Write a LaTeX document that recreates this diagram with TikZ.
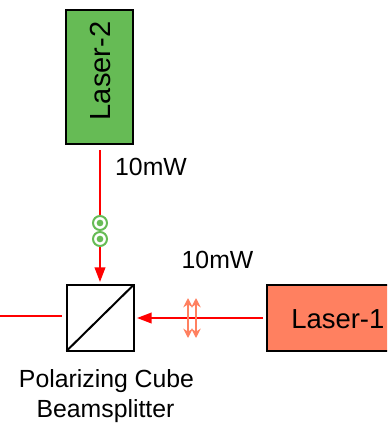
\documentclass[tikz,border=0pt]{standalone}
\usepackage{fontspec}
\setmainfont{Liberation Sans}
\usetikzlibrary{arrows.meta}
\definecolor{lgreen}{HTML}{66BB55}
\definecolor{lsalmon}{HTML}{FF8060}
\tikzset{
  x=0.75pt,y=-0.75pt,
  laserbox/.style={draw=black,line width=1.5pt,inner sep=0pt,outer sep=0pt},
  beam/.style={draw=red,line width=1.3pt},
  beamhead/.style={-{Triangle[length=11pt,width=8pt]}},
  lbl/.style={font=\fontsize{18.6pt}{22pt}\selectfont,text=black,inner sep=0pt},
  biglbl/.style={font=\fontsize{21.8pt}{26pt}\selectfont,text=black,inner sep=0pt},
  pol/.style={draw=lsalmon,line width=1.3pt,{Stealth[length=7pt,width=7pt]}-{Stealth[length=7pt,width=7pt]}},
  dot/.style={circle,draw=lgreen,line width=1.5pt,fill=white,minimum size=10.5pt,inner sep=0pt},
  dotin/.style={circle,fill=lgreen,minimum size=5pt,inner sep=0pt}
}
\begin{document}
\begin{tikzpicture}
\useasboundingbox (0,0) rectangle (387,425);
\clip (0,0) rectangle (387,425);
\node[laserbox,fill=lgreen,minimum width=50.25pt,minimum height=100.5pt] (l2) at (99.75,76.5) {};
\node[biglbl,rotate=90] at (100,71) {Laser-2};
\node[laserbox,fill=lsalmon,minimum width=96pt,minimum height=49.5pt] (l1) at (331,318) {};
\node[font=\fontsize{20.6pt}{25pt}\selectfont,text=black,inner sep=0pt,anchor=west] (l1t) at (291,319) {Laser-1};
\node[laserbox,minimum width=50.25pt,minimum height=49.5pt] (cube) at (100,318) {};
\draw[line width=1.5pt] (cube.south west) -- (cube.north east);
\coordinate (a) at (100,150);
\coordinate (b) at (100,282);
\coordinate (c) at (263,318);
\coordinate (d) at (137,318);
\coordinate (e) at (62,316);
\coordinate (f) at (0,316);
\draw[beam,beamhead] (a) -- (b);
\draw[beam,beamhead] (c) -- (d);
\draw[beam] (e) -- (f);
\node[dot] (p1) at (100,223) {};
\node[dot] (p2) at (100,239) {};
\node[dotin] at (p1) {};
\node[dotin] at (p2) {};
\coordinate (q1a) at (188,298); \coordinate (q1b) at (188,338);
\coordinate (q2a) at (196,298); \coordinate (q2b) at (196,338);
\draw[pol] (q1a) -- (q1b);
\draw[pol] (q2a) -- (q2b);
\node[lbl] (t1) at (151,167) {10mW};
\node[lbl] (t2) at (217.5,260) {10mW};
\node[lbl] (t3) at (106.5,381) {Polarizing Cube};
\node[lbl] (t4) at (105.5,411) {Beamsplitter};
\end{tikzpicture}
\end{document}
